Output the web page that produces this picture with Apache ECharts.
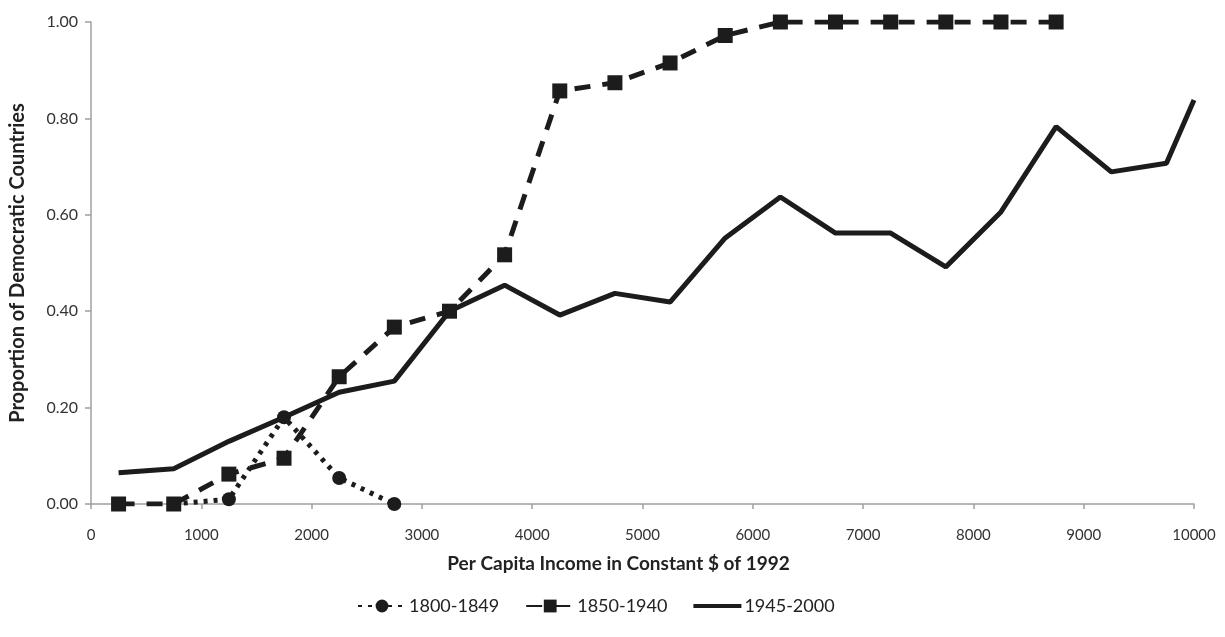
<!DOCTYPE html>
<html>
<head>
<meta charset="utf-8">
<script src="https://cdn.jsdelivr.net/npm/echarts@6/dist/echarts.min.js"></script>
<style>
  html, body { margin: 0; padding: 0; background: #fff; }
  #chart { width: 1225px; height: 637px; }
</style>
</head>
<body>
<div id="chart"></div>
<script>
// Data
var seriesNames = ['1800-1849', '1850-1940', '1945-2000'];

var income1800 = [750, 1250, 1750, 2250, 2750];
var share1800 = [0.00, 0.01, 0.18, 0.054, 0.00];

var income1850 = [250, 750, 1250, 1750, 2250, 2750, 3250, 3750, 4250, 4750, 5250, 5750, 6250, 6750, 7250, 7750, 8250, 8750];
var share1850 = [0.00, 0.00, 0.062, 0.095, 0.264, 0.367, 0.40, 0.517, 0.857, 0.874, 0.915, 0.972, 1.00, 1.00, 1.00, 1.00, 1.00, 1.00];

var income1945 = [250, 750, 1250, 1750, 2250, 2750, 3250, 3750, 4250, 4750, 5250, 5750, 6250, 6750, 7250, 7750, 8250, 8750, 9250, 9750, 10000];
var share1945 = [0.065, 0.073, 0.13, 0.18, 0.232, 0.255, 0.40, 0.454, 0.392, 0.437, 0.419, 0.552, 0.637, 0.562, 0.562, 0.492, 0.606, 0.783, 0.689, 0.707, 0.838];

function pairs(xs, ys) {
  var out = [];
  for (var i = 0; i < xs.length; i++) {
    out.push([xs[i], ys[i]]);
  }
  return out;
}

var ink = '#1c1c1c';
var axisGrey = '#a0a0a0';
var font = 'Lato, "Open Sans", sans-serif';

var chart = echarts.init(document.getElementById('chart'));

chart.setOption({
  animation: false,
  backgroundColor: '#fff',
  textStyle: { fontFamily: font },
  grid: { left: 91, right: 31, top: 22, bottom: 133 },
  legend: {
    bottom: 17,
    left: 352,
    itemWidth: 48,
    itemHeight: 16,
    itemGap: 26,
    textStyle: { fontSize: 18, color: '#222', fontFamily: font, padding: [0, 0, 0, -2] },
    data: [
      seriesNames[0],
      seriesNames[1],
      // plain thick bar for the solid series (no marker)
      { name: seriesNames[2], icon: 'path://M0,0 L60,0 L60,5 L0,5 Z' }
    ]
  },
  xAxis: {
    type: 'value',
    min: 0,
    max: 10000,
    interval: 1000,
    name: 'Per Capita Income in Constant $ of 1992',
    nameLocation: 'middle',
    nameGap: 50,
    // title sits a little left of the axis centre in the original
    nameTextStyle: { fontSize: 19, fontWeight: 'bold', color: '#222', padding: [0, 48, 0, 0] },
    axisLine: { lineStyle: { color: axisGrey, width: 1.5 } },
    axisTick: { length: 5, lineStyle: { color: axisGrey, width: 1.5 } },
    axisLabel: {
      fontSize: 15,
      color: '#333',
      margin: 24,
      formatter: function(v) { return String(v); }
    },
    splitLine: { show: false }
  },
  yAxis: {
    type: 'value',
    min: 0,
    max: 1,
    interval: 0.2,
    name: 'Proportion of Democratic Countries',
    nameLocation: 'middle',
    nameGap: 63,
    nameTextStyle: { fontSize: 20, fontWeight: 'bold', color: '#222' },
    axisLine: { show: true, lineStyle: { color: axisGrey, width: 1.5 } },
    axisTick: { show: true, length: 6, lineStyle: { color: axisGrey, width: 1.5 } },
    axisLabel: {
      fontSize: 16,
      color: '#333',
      margin: 13,
      formatter: function(v) { return v.toFixed(2); }
    },
    splitLine: { show: false }
  },
  series: [{
    name: seriesNames[0],
    type: 'line',
    data: pairs(income1800, share1800),
    symbol: 'circle',
    symbolSize: 14,
    itemStyle: { color: ink },
    lineStyle: { color: ink, width: 5, type: [4, 6] },
    z: 3
  }, {
    name: seriesNames[1],
    type: 'line',
    data: pairs(income1850, share1850),
    symbol: 'rect',
    symbolSize: 15,
    itemStyle: { color: ink },
    lineStyle: { color: ink, width: 5, type: [16, 12] },
    z: 2
  }, {
    name: seriesNames[2],
    type: 'line',
    data: pairs(income1945, share1945),
    showSymbol: false,
    itemStyle: { color: ink },
    lineStyle: { color: ink, width: 5 },
    z: 1
  }]
});
</script>
</body>
</html>
